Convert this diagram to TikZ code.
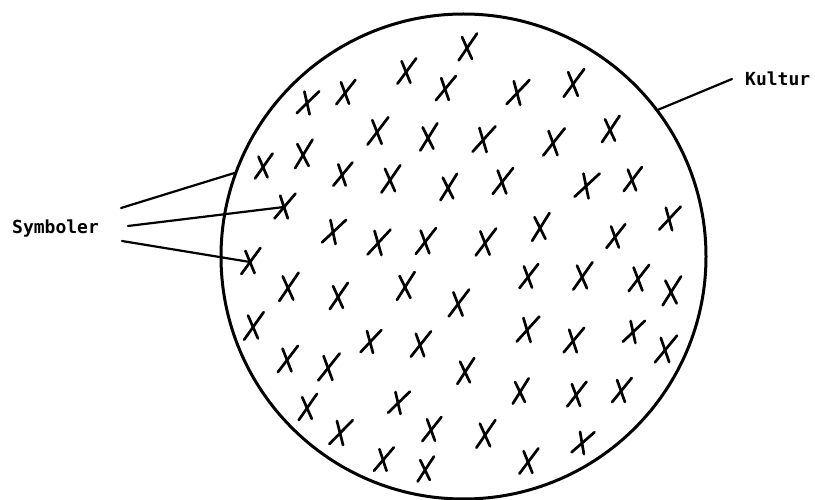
\documentclass[tikz,border=0pt]{standalone}
\usepackage{fontspec}
\setmonofont{DejaVu Sans Mono}
\begin{document}
\begin{tikzpicture}[x=1pt,y=-1pt,
  outline/.style={draw=black,line width=3pt},
  leader/.style={draw=black,line width=2.2pt,line cap=round},
  xstroke/.style={draw=black,line width=2.7pt,line cap=round},
  lbl/.style={font=\ttfamily\bfseries\fontsize{18}{20}\selectfont,inner sep=0pt,anchor=base west},
  xm/.pic={\draw[xstroke] (-10,12)--(12,-14); \draw[xstroke] (-4,-12)--(4,12);}
]
\useasboundingbox[fill=white] (0,0) rectangle (815,500);
% culture circle
\node[outline,circle,minimum size=485pt,inner sep=0pt] (C) at (463.5,256.5) {};
% labels
\node[lbl] (kultur) at (745,86) {Kultur};
\node[lbl] (sym) at (12,234) {Symboler};
% symbols
\pgfmathsetseed{11}
\foreach \px/\py in {
 467/48, 406/72, 445/89, 345/93, 307/103, 517/93, 573/84,
 377/132, 428/138, 483/140, 553/143, 610/130,
 263/167, 303/155, 342/175, 390/180, 448/188, 502/182, 586/186, 632/180,
 333/232, 378/243, 425/242, 485/243, 540/228, 615/237, 669/219,
 288/288, 338/297, 405/287, 458/304, 528/277, 582/277, 638/279, 671/292,
 253/327, 370/342, 420/345, 527/330, 573/341, 633/332, 665/350,
 287/360, 328/368, 465/372, 520/392, 576/395, 621/391,
 307/408, 398/403, 340/433, 431/430, 485/435, 582/443,
 383/460, 425/470, 528/462}{
  \pgfmathsetmacro\rr{rand*9}
  \pgfmathsetmacro\ss{0.95+0.08*rand}
  \pic[rotate=\rr,scale=\ss] at (\px,\py) {xm};
}
\coordinate (p1) at (284,207);
\coordinate (p2) at (250,262);
\pic[scale=0.95] at (p1) {xm};
\pic[scale=0.95,rotate=4] at (p2) {xm};
% leader lines
\coordinate (k0) at (732,79);
\coordinate (s1) at (121,208);
\coordinate (s2) at (128,226);
\coordinate (s3) at (122,241);
\draw[leader] (C.37.9) -- (k0);
\draw[leader] (s1) -- (C.160);
\draw[leader] (s2) -- (p1);
\draw[leader] (s3) -- (p2);
\end{tikzpicture}
\end{document}
